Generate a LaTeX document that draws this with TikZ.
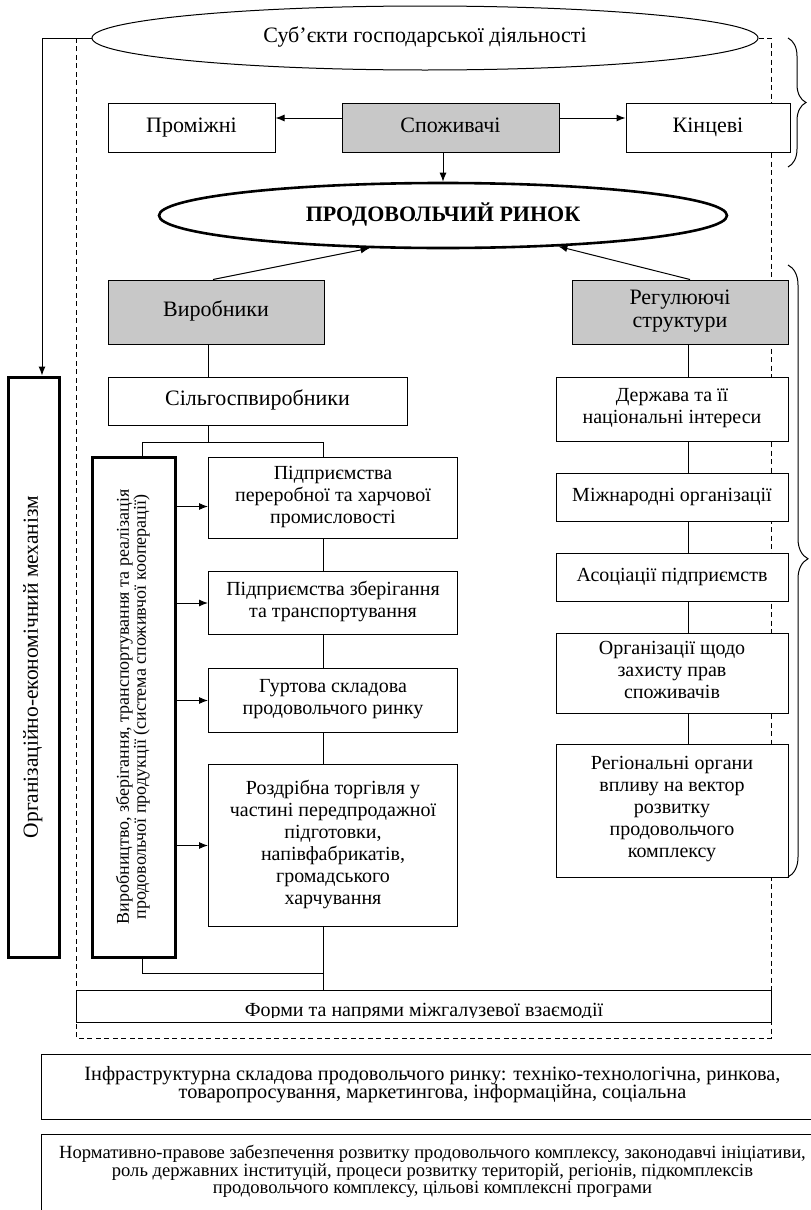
\documentclass[tikz,border=0pt]{standalone}
\usepackage{fontspec}
\setmainfont{Liberation Serif}
\usetikzlibrary{shapes.geometric, arrows, arrows.meta, positioning, decorations.pathreplacing}
\definecolor{boxgrey}{RGB}{200,200,200}
\newcommand{\headfont}{\fontsize{22}{22.5}\selectfont}
\newcommand{\boxfont}{\fontsize{20}{22}\selectfont}
\newcommand{\chainfont}{\fontsize{18}{17}\selectfont\lineskiplimit=-10pt}
\newcommand{\infrafont}{\fontsize{20.3}{18}\selectfont\lineskiplimit=-10pt}
\newcommand{\normfont}{\fontsize{18.6}{17.5}\selectfont\lineskiplimit=-10pt}
\tikzstyle{plainbox} = [rectangle, draw=black, fill=white, line width=1pt, inner sep=2pt, align=center, font=\boxfont, execute at begin node=\strut, execute at end node=\strut]
\tikzstyle{greybox} = [plainbox, fill=boxgrey, font=\headfont]
\tikzstyle{heavybox} = [plainbox, line width=3pt, inner sep=0pt]
\tikzstyle{oval} = [ellipse, draw=black, fill=white, line width=1pt, inner sep=0pt, font=\headfont, execute at begin node=\strut]
\tikzstyle{arrow} = [line width=1pt, ->, >={Latex[length=9pt,width=7pt]}]
\tikzstyle{link} = [line width=1pt]
\tikzstyle{dashframe} = [line width=1pt, dash pattern=on 5pt off 3.5pt]
\tikzstyle{bracket} = [line width=1pt, decorate, decoration={brace, amplitude=18pt}]

\begin{document}
\begin{tikzpicture}[x=1pt, y=-1pt, node distance=31pt]
 \useasboundingbox (0,0) rectangle (811,1210);
 \clip (0,0) rectangle (811,1210);

 % subjects and consumers
 \node (subj) [oval, minimum width=666pt, minimum height=64pt] at (425,38) {Суб’єкти господарської діяльності};
 \coordinate (fr-ne) at (771,38);
 \coordinate (fr-sw) at (76,1038);
 \draw[dashframe] (subj.east) -- (fr-ne) -- (fr-ne |- fr-sw) -- (fr-sw) -- (fr-sw |- fr-ne);

 \node (cons) [greybox, minimum width=217pt, minimum height=49pt] at (450.5,127.5) {Споживачі};
 \node (inter) [plainbox, font=\headfont, left=66pt of cons, minimum width=167pt, minimum height=49pt] {Проміжні};
 \node (final) [plainbox, font=\headfont, right=66pt of cons, minimum width=164pt, minimum height=49pt] {Кінцеві};
 \node (market) [oval, line width=2.6pt, minimum width=568pt, minimum height=65pt, font=\headfont\bfseries] at (443,215.5) {ПРОДОВОЛЬЧИЙ РИНОК};

 % producers
 \node (prod) [greybox, minimum width=216pt, minimum height=64pt] at (216,312) {Виробники};
 \node (farm) [plainbox, font=\headfont, below=32pt of prod.south west, anchor=north west, minimum width=299pt, minimum height=48pt] {Сільгоспвиробники};
 \node (proc1) [plainbox, anchor=north west, minimum width=249pt, minimum height=81pt] at (208,457) {Підприємства\\переробної та харчової\\промисловості};
 \node (proc2) [plainbox, below=32pt of proc1, minimum width=249pt, minimum height=63pt] {Підприємства зберігання\\та транспортування};
 \node (gurt) [plainbox, below=33pt of proc2, minimum width=249pt, minimum height=64pt] {Гуртова складова\\продовольчого ринку};
 \node (retail) [plainbox, below=31pt of gurt, minimum width=249pt, minimum height=162pt] {Роздрібна торгівля у\\частині передпродажної\\підготовки,\\напівфабрикатів,\\громадського\\харчування};
 \node (chain) [heavybox, rotate=90, minimum width=500pt, minimum height=83pt, font=\chainfont] at (133.5,707) {Виробництво, зберігання, транспортування та реалізація\\продовольчої продукції (система споживчої кооперації)};
 \node (mech) [heavybox, rotate=90, minimum width=580pt, minimum height=51pt, font=\fontsize{21.5}{22}\selectfont] at (33.5,667) {Організаційно-економічний механізм};

 % regulators
 \node (reg) [greybox, minimum width=216pt, minimum height=64pt] at (680,312) {Регулюючі\\структури};
 \node (state) [plainbox, below=32pt of reg.south east, anchor=north east, minimum width=232pt, minimum height=64pt] {Держава та її\\національні інтереси};
 \node (intl) [plainbox, below=of state, minimum width=232pt, minimum height=48pt] {Міжнародні організації};
 \node (assoc) [plainbox, below=of intl, minimum width=232pt, minimum height=48pt] {Асоціації підприємств};
 \node (rights) [plainbox, below=of assoc, minimum width=232pt, minimum height=80pt] {Організації щодо\\захисту прав\\споживачів};
 \node (region) [plainbox, below=30pt of rights, minimum width=232pt, minimum height=133pt] {Регіональні органи\\впливу на вектор\\розвитку\\продовольчого\\комплексу};

 % interaction and environment
 \node (forms) [plainbox, anchor=north west, minimum width=695pt, minimum height=32pt,
   path picture={\clip (path picture bounding box.north west) rectangle ([yshift=5pt]path picture bounding box.south east);
     \node (formstext) [font=\boxfont, anchor=base, inner sep=0pt] at ([yshift=6pt]path picture bounding box.south) {Форми та напрями міжгалузевої взаємодії};}] at (76,990) {};
 \node (infra) [plainbox, anchor=north west, minimum width=782pt, minimum height=65pt, font=\infrafont, text depth=9pt] at (41,1054) {Інфраструктурна складова продовольчого ринку: техніко-технологічна, ринкова,\\товаропросування, маркетингова, інформаційна, соціальна};
 \node (norm) [plainbox, anchor=north west, minimum width=782pt, minimum height=88pt, font=\normfont, text depth=18pt] at (41,1134) {Нормативно-правове забезпечення розвитку продовольчого комплексу, законодавчі ініціативи,\\роль державних інституцій, процеси розвитку територій, регіонів, підкомплексів\\продовольчого комплексу, цільові комплексні програми};

 % arrows
 \draw[arrow] ([yshift=9.5pt]cons.west) -- ([yshift=9.5pt]inter.east);
 \draw[arrow] ([yshift=9.5pt]cons.east) -- ([yshift=9.5pt]final.west);
 \draw[arrow] (market.north |- cons.south) -- (market.north);
 \draw[arrow] ([xshift=-3pt]prod.north) -- (market.204.5);
 \draw[arrow] ([xshift=10pt]reg.north) -- (market.-15);
 \draw[arrow] (subj.west) -| ([xshift=8.5pt]mech.east);

 % links
 \coordinate (fork) at (208,442);
 \coordinate (spine) at (323,442);
 \coordinate (base) at (323,973);
 \coordinate (rspine) at (688,300);
 \draw[link] (fork |- prod.south) -- (fork |- farm.north);
 \draw[link] (fork |- farm.south) -- (fork);
 \draw[link] ([xshift=8.5pt]chain.east) |- (spine) -- (spine |- proc1.north);
 \foreach \a/\b in {proc1/proc2, proc2/gurt, gurt/retail, retail/forms}
   \draw[link] (spine |- \a.south) -- (spine |- \b.north);
 \draw[link] ([xshift=8.5pt]chain.west) |- (base);
 \foreach \b/\dy in {proc1/-8.5, proc2/0, gurt/0, retail/0}
   \draw[arrow] ([yshift=\dy pt]\b.west -| chain.south) -- ([yshift=\dy pt]\b.west);
 \foreach \a/\b in {reg/state, state/intl, intl/assoc, assoc/rights, rights/region}
   \draw[link] (rspine |- \a.south) -- (rspine |- \b.north);

 % braces
 \coordinate (br1a) at (788,38);
 \coordinate (br1b) at (788,167);
 \coordinate (br2a) at (788,265);
 \coordinate (br2b) at (788,877);
 \draw[bracket] (br1a) -- (br1b);
 \draw[bracket, decoration={brace, amplitude=20pt, aspect=0.48}] (br2a) -- (br2b);
\end{tikzpicture}
\end{document}
